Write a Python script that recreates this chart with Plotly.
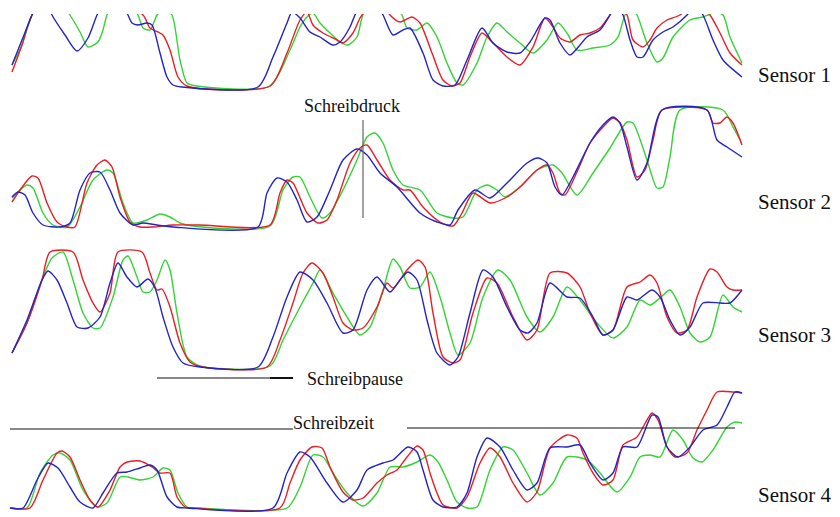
import plotly.graph_objects as go

# time axis in samples, sensor values in raw units (0 = pen up / baseline)
S1_BLUE = [(12,22),(20,42),(32,72),(42,97),(52,72),(65,52),(77,36),(88,49),(97,72),(112,102),(128,72),(132,64),(138,62),(147,64),(152,62),(160,34),(167,10),(173,2),(182,0),(258,0),(273,30),(287,64),(292,75),(300,69),(310,55),(320,50),(333,42),(340,45),(350,60),(355,72),(368,97),(383,72),(393,52),(403,57),(410,59),(423,34),(433,7),(443,1),(455,2),(467,27),(482,59),(493,44),(507,35),(520,34),(530,45),(545,69),(550,67),(560,44),(570,32),(580,42),(587,50),(600,57),(610,72),(616,82),(623,72),(630,47),(637,30),(643,30),(653,47),(663,55),(673,60),(687,72),(695,82),(703,72),(713,47),(723,27),(742,10)]
S1_RED = [(12,15),(22,42),(32,72),(70,112),(143,72),(150,59),(160,54),(163,52),(170,37),(178,10),(187,1),(270,1),(287,34),(300,67),(307,75),(313,62),(323,54),(337,47),(343,44),(353,54),(360,69),(362,72),(375,97),(390,72),(400,65),(412,70),(420,64),(432,34),(443,7),(452,1),(460,4),(470,30),(482,54),(493,44),(507,30),(520,22),(533,40),(545,69),(553,60),(560,49),(570,45),(580,52),(590,54),(600,59),(610,72),(618,82),(627,72),(633,47),(643,40),(650,47),(657,59),(667,67),(680,72),(695,87),(710,72),(720,54),(730,34),(742,22)]
S1_GREEN = [(12,22),(22,42),(32,72),(50,102),(70,72),(80,55),(88,40),(98,45),(103,57),(107,72),(122,97),(138,72),(143,59),(150,57),(157,72),(164,79),(172,72),(180,27),(187,4),(197,1),(270,1),(290,37),(300,60),(307,70),(313,74),(320,64),(330,54),(340,45),(348,42),(357,50),(363,72),(383,97),(402,72),(407,59),(417,57),(427,64),(437,50),(447,24),(457,4),(463,2),(477,24),(487,50),(497,64),(507,55),(520,44),(533,34),(547,47),(558,64),(567,54),(577,37),(593,39),(610,42),(618,50),(625,72),(631,79),(637,72),(647,44),(657,25),(663,29),(673,50),(690,67),(703,70),(708,72),(715,75),(723,72),(730,50),(742,24)]

S2_RED = [(12,25),(20,37),(32,51),(38,49),(47,24),(57,5),(67,0),(75,0),(87,44),(97,62),(105,67),(112,60),(120,30),(130,5),(140,0),(153,0),(173,2),(200,2),(270,2),(280,34),(287,47),(293,44),(307,14),(318,4),(327,7),(337,27),(350,64),(360,79),(367,82),(377,67),(390,47),(403,37),(410,37),(423,20),(440,5),(453,1),(462,14),(473,34),(490,24),(507,30),(520,40),(537,57),(547,62),(553,54),(560,34),(565,32),(577,55),(590,84),(603,100),(613,109),(620,104),(627,87),(637,50),(645,57),(653,87),(662,117),(707,117),(713,104),(720,104),(727,110),(733,104),(742,82)]
S2_GREEN = [(12,29),(27,42),(33,39),(43,14),(53,2),(67,0),(80,20),(93,47),(107,57),(113,54),(123,24),(133,4),(147,7),(160,13),(170,10),(180,4),(193,1),(270,1),(283,37),(293,50),(300,50),(310,30),(322,9),(330,14),(343,37),(357,67),(367,90),(375,94),(383,84),(393,57),(403,42),(420,37),(437,14),(453,9),(463,10),(477,37),(487,42),(497,37),(505,30),(520,40),(537,57),(553,62),(562,54),(577,32),(593,54),(610,79),(627,105),(633,104),(647,67),(657,39),(663,40),(670,70),(680,117),(723,117),(733,100),(740,87)]
S2_BLUE = [(12,30),(18,35),(25,32),(33,14),(43,2),(60,0),(70,4),(80,37),(90,54),(100,55),(110,37),(120,14),(133,2),(143,4),(157,2),(173,0),(258,0),(267,34),(277,49),(287,45),(297,27),(307,5),(317,10),(330,37),(343,67),(357,78),(367,72),(380,54),(397,40),(420,14),(437,5),(450,2),(458,17),(475,37),(490,29),(507,44),(527,64),(538,69),(547,64),(555,40),(562,32),(573,50),(590,84),(603,102),(613,110),(620,104),(627,80),(637,47),(647,64),(662,117),(707,117),(717,87),(727,80),(742,70)]

S3_RED = [(12,14),(27,44),(42,87),(50,115),(73,115),(83,87),(93,64),(100,55),(110,74),(118,115),(142,115),(150,94),(157,77),(162,78),(170,60),(180,24),(190,5),(203,0),(267,0),(280,27),(293,64),(303,94),(312,104),(323,94),(333,70),(343,44),(353,37),(363,39),(377,60),(387,84),(393,79),(407,97),(418,107),(425,100),(433,54),(443,10),(453,4),(460,7),(473,54),(487,89),(497,84),(513,50),(527,27),(537,37),(550,94),(567,94),(580,80),(590,54),(603,32),(613,37),(627,80),(640,85),(650,92),(657,84),(667,50),(677,34),(687,37),(697,70),(710,98),(717,95),(727,80),(733,77),(742,77)]
S3_GREEN = [(12,14),(27,44),(40,82),(52,109),(63,115),(73,87),(83,54),(93,39),(100,39),(113,70),(123,107),(128,111),(137,90),(143,75),(150,75),(157,87),(165,107),(170,97),(177,54),(187,10),(200,1),(270,1),(283,27),(300,60),(313,84),(320,97),(333,74),(347,50),(360,32),(370,40),(383,77),(393,108),(400,100),(410,79),(420,80),(430,95),(440,70),(450,34),(458,12),(470,24),(483,70),(498,97),(510,87),(527,50),(540,35),(553,50),(567,80),(580,67),(597,44),(613,29),(627,40),(640,67),(650,62),(660,69),(670,77),(680,60),(690,34),(700,25),(710,30),(723,72),(733,60),(742,55)]
S3_BLUE = [(12,14),(27,47),(42,87),(48,96),(57,87),(67,64),(77,40),(88,39),(100,50),(110,84),(118,104),(127,90),(137,80),(148,88),(155,79),(163,50),(173,20),(183,4),(200,0),(258,0),(273,30),(287,70),(300,95),(313,87),(327,64),(343,34),(353,37),(367,77),(377,90),(390,75),(400,87),(408,95),(417,87),(427,47),(437,14),(450,2),(458,10),(470,54),(483,97),(493,90),(507,60),(520,37),(528,34),(537,44),(550,84),(567,70),(580,69),(593,50),(603,32),(613,37),(627,70),(637,67),(652,77),(660,70),(670,47),(680,32),(690,40),(703,64),(720,64),(730,64),(742,77)]

S4_RED = [(10,0),(30,0),(43,28),(57,55),(62,57),(70,51),(80,28),(90,8),(98,1),(110,18),(120,41),(127,46),(140,47),(152,41),(160,35),(170,35),(177,11),(185,1),(193,0),(280,0),(290,25),(300,48),(312,61),(322,60),(330,41),(343,16),(353,8),(363,10),(377,25),(387,33),(397,38),(407,51),(417,62),(423,58),(430,35),(437,15),(443,3),(457,0),(467,11),(480,45),(490,60),(500,51),(513,25),(527,6),(537,16),(550,60),(567,73),(577,70),(583,55),(593,35),(603,23),(613,28),(623,63),(637,71),(652,95),(658,88),(667,61),(675,51),(687,55),(697,78),(707,98),(717,116),(733,116),(742,115)]
S4_GREEN = [(10,0),(27,0),(40,35),(53,53),(60,55),(70,48),(83,18),(97,1),(107,5),(120,31),(128,31),(140,28),(153,31),(163,40),(170,38),(178,15),(187,1),(200,0),(287,0),(300,21),(313,53),(323,51),(333,35),(347,15),(363,2),(377,15),(390,41),(403,41),(417,46),(430,53),(438,46),(447,28),(457,6),(467,0),(477,1),(490,38),(503,61),(513,58),(527,35),(540,13),(553,25),(567,51),(587,48),(600,35),(617,16),(630,31),(640,51),(650,53),(660,51),(673,78),(683,68),(693,50),(702,46),(713,58),(727,81),(735,86),(742,85)]
S4_BLUE = [(10,0),(23,0),(37,28),(48,45),(58,40),(70,21),(80,6),(93,0),(103,15),(117,35),(127,36),(140,40),(150,43),(157,38),(167,11),(177,1),(187,0),(273,0),(287,35),(300,56),(310,51),(327,25),(343,6),(357,18),(367,38),(383,45),(393,48),(408,61),(417,56),(423,38),(433,8),(443,1),(457,1),(467,15),(477,51),(487,70),(500,61),(513,38),(527,18),(537,25),(550,60),(567,61),(580,63),(590,45),(603,28),(613,35),(623,61),(637,61),(652,93),(658,91),(667,61),(678,51),(690,61),(703,78),(717,83),(727,101),(735,116),(742,115)]

SENSOR_LABELS = ["Sensor 1", "Sensor 2", "Sensor 3", "Sensor 4"]
RED, GREEN, BLUE = "#ec1c24", "#33d433", "#2323c8"

W, H = 840, 517
def py(p):
    return 1 - p / H

# panel pixel extents (top, bottom) and baseline pixel
PANELS = [(14, 92, 87), (104, 232, 227), (245, 372, 367), (386, 513, 508)]

fig = go.Figure()
series = [
    [(S1_GREEN, GREEN), (S1_RED, RED), (S1_BLUE, BLUE)],
    [(S2_GREEN, GREEN), (S2_RED, RED), (S2_BLUE, BLUE)],
    [(S3_GREEN, GREEN), (S3_RED, RED), (S3_BLUE, BLUE)],
    [(S4_GREEN, GREEN), (S4_RED, RED), (S4_BLUE, BLUE)],
]
for i, group in enumerate(series):
    yname = "y" if i == 0 else f"y{i+1}"
    for data, col in group:
        t, v = zip(*data)
        fig.add_trace(go.Scatter(x=list(t), y=list(v), mode="lines", yaxis=yname, xaxis="x",
                                 line=dict(color=col, width=1.4, shape="spline", smoothing=0.7),
                                 hoverinfo="skip", showlegend=False))

layout = dict(width=W, height=H, margin=dict(l=0, r=0, t=0, b=0),
              paper_bgcolor="white", plot_bgcolor="white", showlegend=False,
              xaxis=dict(range=[0, W], domain=[0, 1], visible=False, fixedrange=True))
for i, (top, bot, base) in enumerate(PANELS):
    key = "yaxis" if i == 0 else f"yaxis{i+1}"
    layout[key] = dict(domain=[py(bot), py(top)], range=[base - bot, base - top],
                       visible=False, anchor="x", fixedrange=True)
fig.update_layout(**layout)

serif = "Liberation Serif, Times New Roman, serif"
label_y = [75, 202, 335, 495]
for lab, yy in zip(SENSOR_LABELS, label_y):
    fig.add_annotation(text=lab, x=756 / W, y=py(yy), xref="paper", yref="paper",
                       xanchor="left", yanchor="middle", showarrow=False,
                       font=dict(family=serif, size=21, color="#111"))

fig.add_annotation(text="Schreibdruck", x=352 / W, y=py(106), xref="paper", yref="paper",
                   xanchor="center", yanchor="middle", showarrow=False,
                   font=dict(family=serif, size=18, color="#111"))
fig.add_annotation(text="Schreibpause", x=305 / W, y=py(379), xref="paper", yref="paper",
                   xanchor="left", yanchor="middle", showarrow=False,
                   font=dict(family=serif, size=18, color="#111"))
fig.add_annotation(text="Schreibzeit", x=291 / W, y=py(423), xref="paper", yref="paper",
                   xanchor="left", yanchor="middle", showarrow=False,
                   font=dict(family=serif, size=18, color="#111"))

shapes = [
    dict(type="line", x0=363 / W, x1=363 / W, y0=py(120), y1=py(218), line=dict(color="#666", width=1.2)),
    dict(type="line", x0=157 / W, x1=270 / W, y0=py(378), y1=py(378), line=dict(color="#111", width=1)),
    dict(type="line", x0=270 / W, x1=293 / W, y0=py(378), y1=py(378), line=dict(color="#111", width=2)),
    dict(type="line", x0=10 / W, x1=293 / W, y0=py(429), y1=py(429), line=dict(color="#111", width=1)),
    dict(type="line", x0=407 / W, x1=735 / W, y0=py(428), y1=py(428), line=dict(color="#111", width=1)),
]
for s in shapes:
    s.update(xref="paper", yref="paper")
    fig.add_shape(**s)

fig.write_html("out.html", config={"displayModeBar": False, "staticPlot": True},
               post_script="document.body.style.margin='0';document.body.style.overflow='hidden';")
